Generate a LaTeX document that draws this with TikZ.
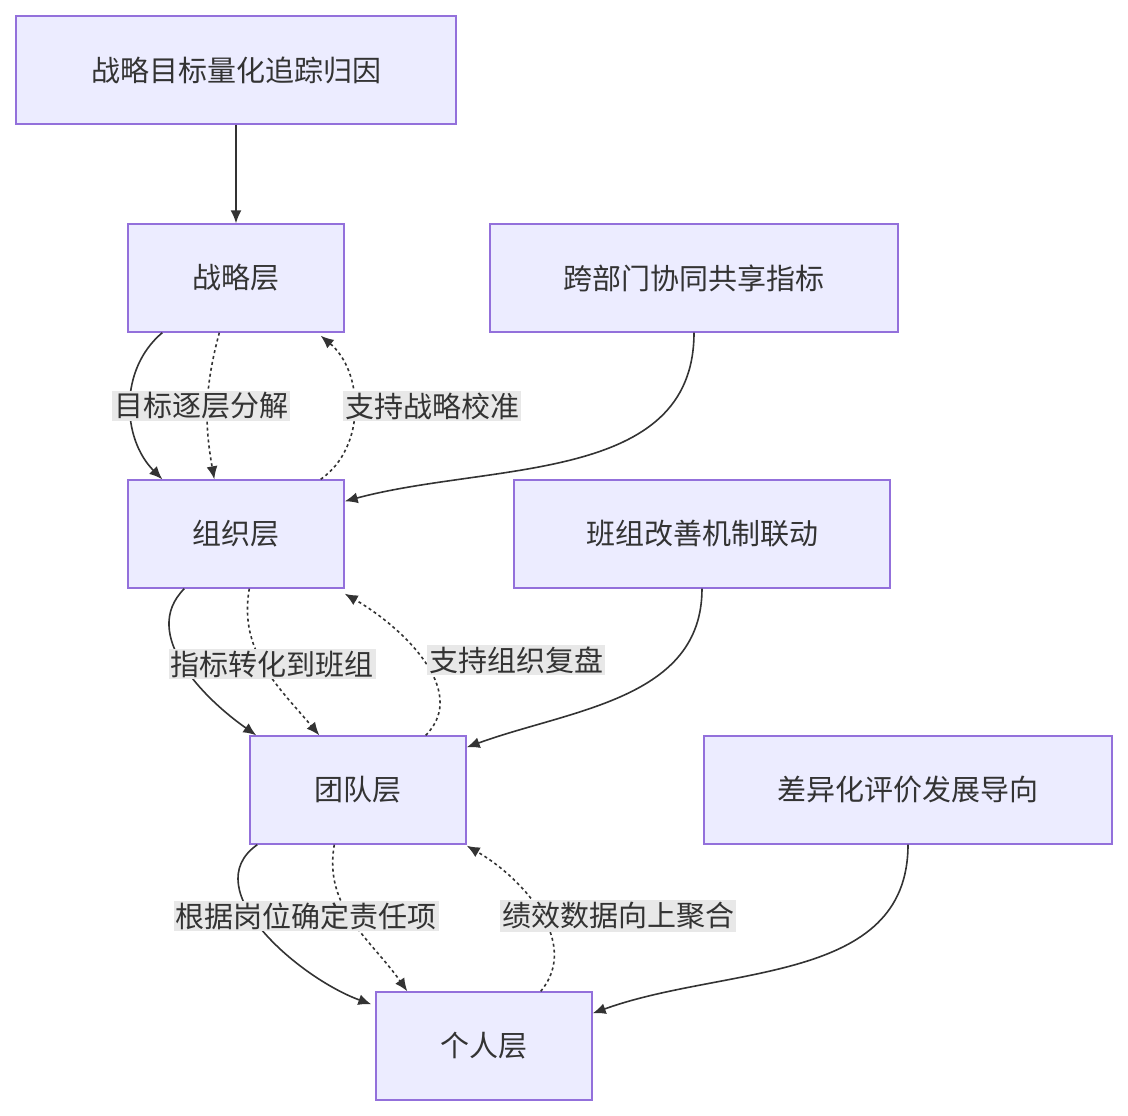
\documentclass[tikz,border=0pt]{standalone}
\usepackage{fontspec}
\setmainfont{Noto Sans CJK SC}
\usetikzlibrary{arrows.meta}
\definecolor{fond}{HTML}{ECECFF}
\definecolor{bord}{HTML}{9370DB}
\definecolor{texte}{HTML}{333333}
\definecolor{gris}{HTML}{E8E8E8}
\begin{document}
\begin{tikzpicture}[x=1pt,y=1pt]
		\tikzstyle{fleche}=[-{Latex[length=13pt,width=11pt]},line width=1.6pt,texte]
		\tikzstyle{pointille}=[fleche,dash pattern=on 3pt off 3pt]
		\tikzstyle{boite}=[draw=bord,fill=fond,line width=1.4pt,text=texte,minimum height=108pt,font=\fontsize{29}{34}\selectfont]
		\tikzstyle{etiquette}=[fill=gris,text=texte,inner sep=2pt,font=\fontsize{29}{34}\selectfont]
		
		\useasboundingbox (0,0) rectangle (1128,-1116);
		
		\node[boite,minimum width=440pt] (A) at (236,-70) {战略目标量化追踪归因};
		\node[boite,minimum width=216pt] (B) at (236,-278) {战略层};
		\node[boite,minimum width=408pt] (C) at (694,-278) {跨部门协同共享指标};
		\node[boite,minimum width=216pt] (D) at (236,-534) {组织层};
		\node[boite,minimum width=376pt] (E) at (702,-534) {班组改善机制联动};
		\node[boite,minimum width=216pt] (F) at (358,-790) {团队层};
		\node[boite,minimum width=408pt] (G) at (908,-790) {差异化评价发展导向};
		\node[boite,minimum width=216pt] (H) at (484,-1046) {个人层};
		
		\draw[fleche] (A)--(B);
		\draw[fleche] ([xshift=35pt]B.south west) to[out=220,in=135] ([xshift=35pt]D.north west);
		\draw[pointille] ([xshift=92pt]B.south west) to[out=-105,in=100] ([xshift=87pt]D.north west);
		\draw[pointille] ([xshift=-24pt]D.north east) to[out=35,in=-40] ([xshift=-24pt,yshift=-3pt]B.south east);
		\draw[fleche] (C.south) to[out=-90,in=15] ([yshift=-22pt]D.north east);
		\draw[fleche] ([xshift=57pt]D.south west) to[out=225,in=145] ([xshift=7pt]F.north west);
		\draw[pointille] ([xshift=122pt]D.south west) to[out=-100,in=130] ([xshift=70pt]F.north west);
		\draw[pointille] ([xshift=-41pt]F.north east) to[out=45,in=-30] ([yshift=-5pt]D.south east);
		\draw[fleche] (E.south) to[out=-90,in=20] ([yshift=-12pt]F.north east);
		\draw[fleche] ([xshift=8pt]F.south west) to[out=215,in=160] ([xshift=-4pt,yshift=-13pt]H.north west);
		\draw[pointille] ([xshift=85pt]F.south west) to[out=-100,in=125] ([xshift=32pt]H.north west);
		\draw[pointille] ([xshift=-52pt]H.north east) to[out=50,in=-30] ([yshift=-1pt]F.south east);
		\draw[fleche] (G.south) to[out=-90,in=20] ([yshift=-22pt]H.north east);
		
		\node[etiquette] (l1) at (201,-406) {目标逐层分解};
		\node[etiquette] (l2) at (432,-406) {支持战略校准};
		\node[etiquette] (l3) at (272,-664) {指标转化到班组};
		\node[etiquette] (l4) at (516,-660) {支持组织复盘};
		\node[etiquette] (l5) at (306,-916) {根据岗位确定责任项};
		\node[etiquette] (l6) at (618,-916) {绩效数据向上聚合};
	\end{tikzpicture}
\end{document}
